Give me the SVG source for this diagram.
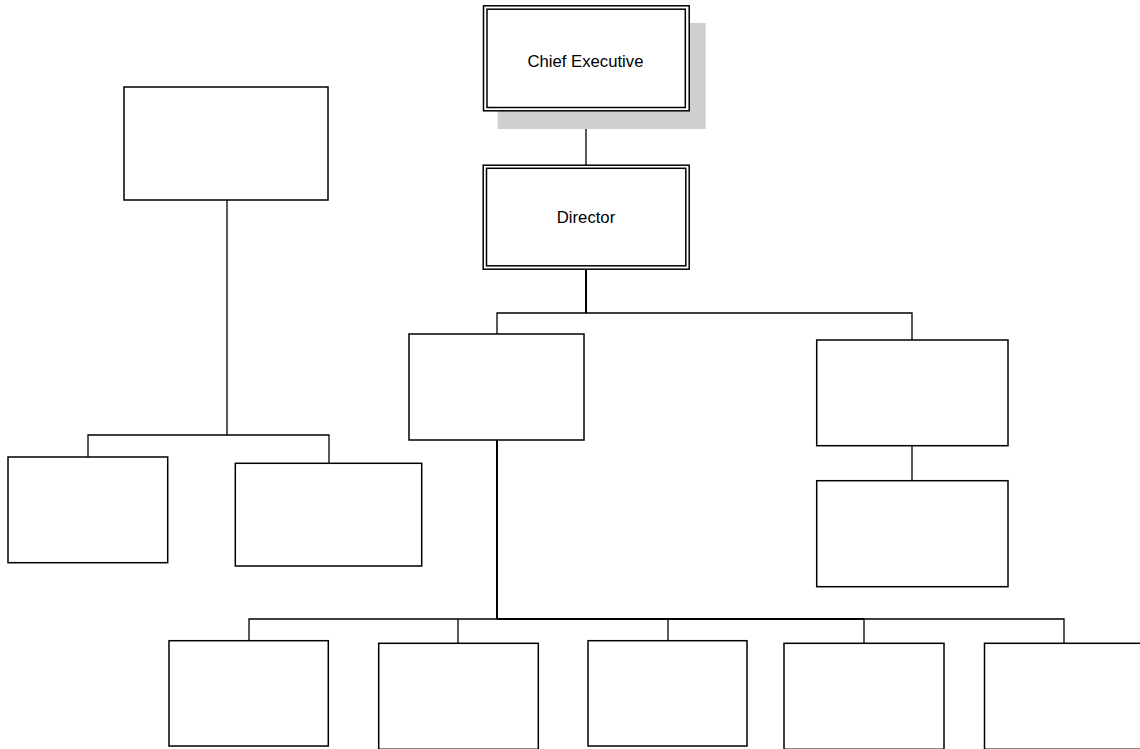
<svg xmlns="http://www.w3.org/2000/svg" width="1140" height="749" viewBox="0 0 1140 749">
<style>
.box{fill:#fff;stroke:#000;stroke-width:1.5}
.dbl{fill:none;stroke:#000;stroke-width:1.5}
.dblo{fill:#fff;stroke:#000;stroke-width:1.5}
.ln{fill:none;stroke:#000;stroke-width:1.3}
.thick{fill:none;stroke:#000;stroke-width:2}
.lbl{font-family:"Liberation Sans",Arial,sans-serif;font-size:16.7px;fill:#000;text-anchor:middle}
</style>
<rect width="1140" height="749" fill="#fff"/>
<g id="connectors">
<line class="ln" x1="586" y1="110" x2="586" y2="165"/>
<line class="thick" x1="586" y1="269" x2="586" y2="313"/>
<polyline class="ln" points="497,334 497,313 912,313 912,340"/>
<line class="ln" x1="912" y1="446" x2="912" y2="481"/>
<line class="ln" x1="227" y1="200" x2="227" y2="435"/>
<polyline class="ln" points="88,457 88,435 329,435 329,463"/>
<line class="thick" x1="497" y1="440" x2="497" y2="619"/>
<line class="thick" x1="497" y1="619" x2="864" y2="619"/>
<polyline class="ln" points="249,641 249,619 497,619"/>
<line class="ln" x1="458" y1="619" x2="458" y2="643"/>
<line class="ln" x1="668" y1="619" x2="668" y2="641"/>
<polyline class="ln" points="864,643 864,619 1064,619 1064,643"/>
</g>
<g id="chief-executive">
<rect x="497.7" y="23" width="208" height="106" fill="#cfcfcf"/>
<rect class="dblo" x="483.5" y="5.8" width="205.7" height="105"/>
<rect class="dbl" x="487" y="9.2" width="198.3" height="98.3"/>
<text class="lbl" x="585.5" y="66.5">Chief Executive</text>
</g>
<g id="director">
<rect class="dblo" x="483.2" y="165.2" width="206" height="104"/>
<rect class="dbl" x="486.5" y="168.3" width="199.3" height="97.5"/>
<text class="lbl" x="586" y="223.3">Director</text>
</g>
<g id="node-topleft"><rect class="box" x="124" y="87" width="204" height="113"/></g>
<g id="node-left1"><rect class="box" x="8" y="457" width="159.7" height="105.7"/></g>
<g id="node-left2"><rect class="box" x="235.3" y="463.3" width="186.4" height="102.7"/></g>
<g id="node-mid"><rect class="box" x="409" y="334" width="175" height="106"/></g>
<g id="node-right1"><rect class="box" x="816.7" y="340" width="191.3" height="105.7"/></g>
<g id="node-right2"><rect class="box" x="816.7" y="480.7" width="191.3" height="106"/></g>
<g id="node-bottom1"><rect class="box" x="169" y="640.7" width="159.3" height="105.3"/></g>
<g id="node-bottom2"><rect class="box" x="378.7" y="643.3" width="159.6" height="106"/></g>
<g id="node-bottom3"><rect class="box" x="588" y="640.7" width="159" height="105.3"/></g>
<g id="node-bottom4"><rect class="box" x="784" y="643.3" width="160" height="106"/></g>
<g id="node-bottom5"><rect class="box" x="984.5" y="643.3" width="170" height="106"/></g>
</svg>
